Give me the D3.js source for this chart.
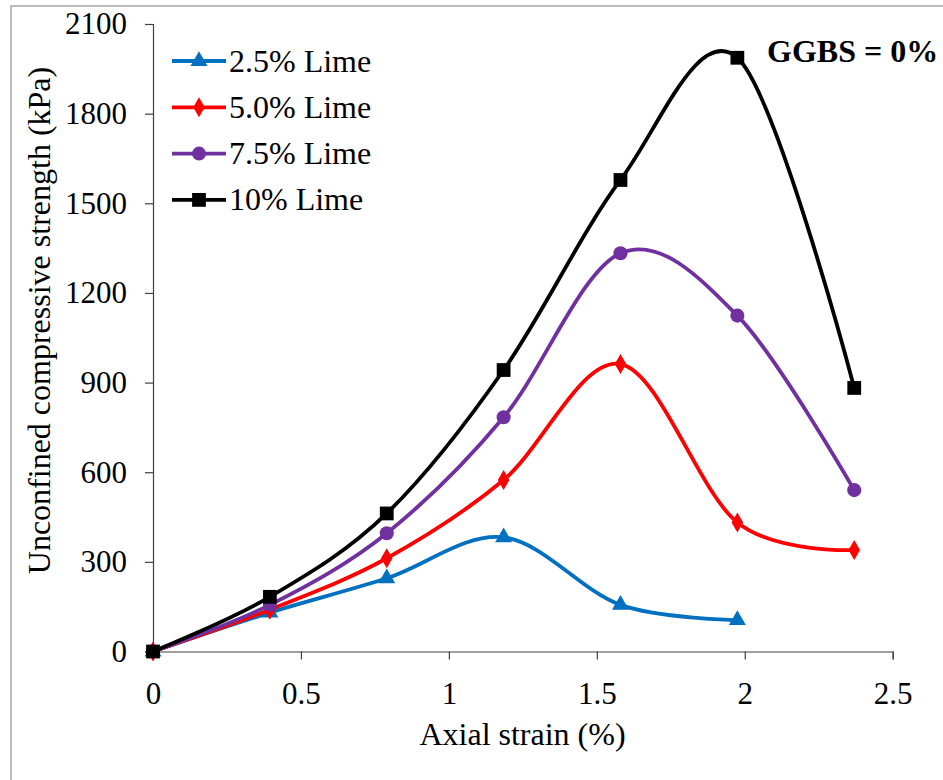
<!DOCTYPE html>
<meta charset="utf-8">
<script src="https://d3js.org/d3.v7.min.js"></script>
<style>
  body { margin: 0; background: #fff; }
</style>
<div id="chart"></div>
<script>

// data
let strain = [0, 0.395, 0.79, 1.185, 1.58, 1.975, 2.37];
let lime25 = [0, 130, 245, 382, 156, 105];
let lime50 = [0, 140, 312, 574, 962, 432, 340];
let lime75 = [0, 156, 396, 784, 1333, 1124, 540];
let lime10 = [0, 183, 462, 942, 1578, 1987, 882];

let seriesNames = ["2.5% Lime", "5.0% Lime", "7.5% Lime", "10% Lime"];
let xTicks = [0, 0.5, 1, 1.5, 2, 2.5];
let yTicks = [0, 300, 600, 900, 1200, 1500, 1800, 2100];

let serif = "'Liberation Serif', 'Times New Roman', Times, serif";

let series = [
  {name: seriesNames[0], values: lime25, color: "#0070C0", symbol: d3.symbolTriangle, size: 125},
  {name: seriesNames[1], values: lime50, color: "#FF0000", symbol: d3.symbolDiamond, size: 115},
  {name: seriesNames[2], values: lime75, color: "#7030A0", symbol: d3.symbolCircle, size: 155},
  {name: seriesNames[3], values: lime10, color: "#000000", symbol: d3.symbolSquare, size: 190}
];

let width = 943, height = 780;

let svg = d3.select("#chart")
  .append("svg")
    .attr("width", width)
    .attr("height", height)
    .style("font-family", serif);

// outer frame (only left and top edges show in the picture)
svg.append("rect")
    .attr("x", 11).attr("y", 6)
    .attr("width", 960).attr("height", 800)
    .attr("fill", "none")
    .attr("stroke", "#a6a6a6")
    .attr("stroke-width", 1.5);

let x = d3.scaleLinear().domain([0, 2.5]).range([153, 892.7]);
let y = d3.scaleLinear().domain([0, 2100]).range([651.5, 24]);

// x axis
let gx = svg.append("g")
    .attr("transform", "translate(0," + y(0) + ")")
    .call(d3.axisBottom(x).tickValues(xTicks).tickSize(8).tickPadding(22)
      .tickFormat(d => d));

// y axis
let gy = svg.append("g")
    .attr("transform", "translate(" + x(0) + ",0)")
    .call(d3.axisLeft(y).tickValues(yTicks).tickSize(8).tickPadding(18)
      .tickFormat(d => d));

svg.selectAll(".tick text")
    .style("font-family", serif)
    .style("font-size", "31px")
    .attr("fill", "#000");

svg.selectAll(".domain, .tick line")
    .attr("stroke", "#404040")
    .attr("stroke-width", 1.2);

// axis titles
svg.append("text")
    .attr("x", 522.5).attr("y", 745)
    .attr("text-anchor", "middle")
    .style("font-family", serif)
    .style("font-size", "32px")
    .text("Axial strain (%)");

svg.append("text")
    .attr("transform", "translate(50,320.5) rotate(-90)")
    .attr("text-anchor", "middle")
    .style("font-family", serif)
    .style("font-size", "32px")
    .text("Unconfined compressive strength (kPa)");

// lines and markers
let line = d3.line()
    .x((d, i) => x(strain[i]))
    .y(d => y(d))
    .curve(d3.curveCardinal.tension(0));

series.forEach(function(s) {
  svg.append("path")
      .attr("d", line(s.values))
      .attr("fill", "none")
      .attr("stroke", s.color)
      .attr("stroke-width", 3.8);

  svg.selectAll(null)
      .data(s.values)
    .enter()
    .append("path")
      .attr("d", d3.symbol().type(s.symbol).size(s.size))
      .attr("transform", (d, i) => "translate(" + x(strain[i]) + "," + y(d) + ")")
      .attr("fill", s.color);
});

// legend
let legend = svg.append("g");
series.forEach(function(s, i) {
  let ly = 61 + i * 46.3;
  legend.append("line")
      .attr("x1", 172).attr("x2", 226)
      .attr("y1", ly).attr("y2", ly)
      .attr("stroke", s.color)
      .attr("stroke-width", 3.8);
  legend.append("path")
      .attr("d", d3.symbol().type(s.symbol).size(s.size))
      .attr("transform", "translate(199," + ly + ")")
      .attr("fill", s.color);
  legend.append("text")
      .attr("x", 229).attr("y", ly + 10.5)
      .style("font-family", serif)
      .style("font-size", "32px")
      .text(s.name);
});

svg.append("text")
    .attr("x", 767).attr("y", 62)
    .style("font-family", serif)
    .style("font-size", "32px")
    .style("font-weight", "bold")
    .text("GGBS = 0%");

</script>
